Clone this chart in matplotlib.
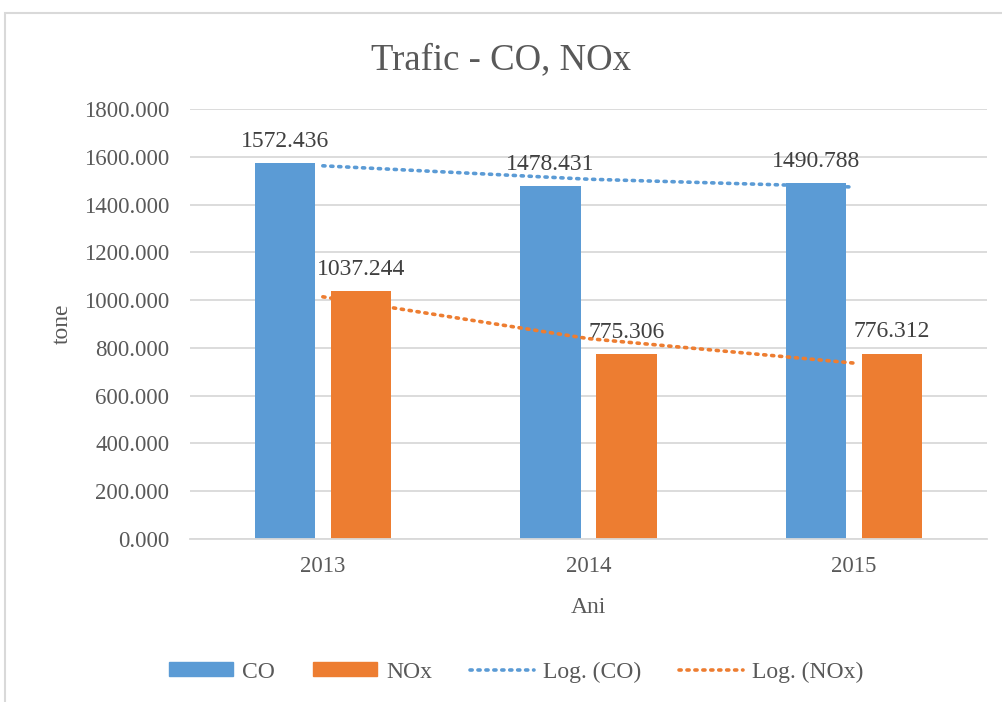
import numpy as np
import matplotlib
matplotlib.use("Agg")
import matplotlib.pyplot as plt
from matplotlib.patches import Rectangle
from matplotlib.lines import Line2D

## Date
ani = ["2013", "2014", "2015"]
co = [1572.436, 1478.431, 1490.788]
nox = [1037.244, 775.306, 776.312]
yticks = [0, 200, 400, 600, 800, 1000, 1200, 1400, 1600, 1800]

c_co = "#5B9BD5"
c_nox = "#ED7D31"
gri = "#595959"
grila = "#D9D9D9"

plt.rcParams['font.family'] = ['Liberation Serif', 'DejaVu Serif']

W, H = 1003, 702
fig = plt.figure(figsize=(W / 100, H / 100), dpi=100)
ax = fig.add_axes([190 / W, (H - 539) / H, 797 / W, 430 / H])

x = np.arange(len(ani))
w = 0.226
off = 0.143
b1 = ax.bar(x - off, co, w, color=c_co, zorder=2)
b2 = ax.bar(x + off, nox, w, color=c_nox, zorder=2)

for bars, vals in ((b1, co), (b2, nox)):
    for b, v in zip(bars, vals):
        ax.annotate("%.3f" % v, (b.get_x() + b.get_width() / 2, v),
                    xytext=(0, 8), textcoords="offset points",
                    ha="center", va="bottom", fontsize=17, color="#404040")

# trend logaritmic y = a + b ln(x)
xl = np.log(x + 1)
for vals, col in ((co, c_co), (nox, c_nox)):
    b, a = np.polyfit(xl, vals, 1)
    ax.plot(x, a + b * xl, linestyle=(0, (0.6, 1.6)), dash_capstyle="round",
            color=col, linewidth=2.6, zorder=3)

ax.set_xlim(-0.5, 2.5)
ax.set_ylim(0, 1800)
ax.set_yticks(yticks)
ax.set_yticklabels(["%.3f" % t for t in yticks])
ax.set_xticks(x)
ax.set_xticklabels(ani)
ax.tick_params(axis="both", length=0, labelsize=16.5, labelcolor=gri)
ax.tick_params(axis="y", pad=15)
ax.tick_params(axis="x", pad=12)
ax.yaxis.grid(True, color=grila, linewidth=1.3, zorder=0)
for s in ["left", "right", "top"]:
    ax.spines[s].set_visible(False)
ax.spines["bottom"].set_color(grila)
ax.spines["bottom"].set_linewidth(1.3)

ax.set_ylabel("tone", fontsize=17, color=gri)
ax.yaxis.set_label_coords(-0.147, 0.5)
ax.set_xlabel("Ani", fontsize=17, color=gri)
ax.xaxis.set_label_coords(0.5, -0.135)

fig.text(0.5, (H - 60) / H, "Trafic - CO, NOx", ha="center", va="center",
         fontsize=26.5, color=gri)

handles = [
    Rectangle((0, 0), 1, 1, color=c_co),
    Rectangle((0, 0), 1, 1, color=c_nox),
    Line2D([], [], color=c_co, linestyle=(0, (0.6, 1.6)), linewidth=2.6,
           dash_capstyle="round"),
    Line2D([], [], color=c_nox, linestyle=(0, (0.6, 1.6)), linewidth=2.6,
           dash_capstyle="round"),
]
leg = fig.legend(handles, ["CO", "NOx", "Log. (CO)", "Log. (NOx)"], ncol=4,
                 loc="center", bbox_to_anchor=(0.515, (H - 672) / H),
                 frameon=False, fontsize=17, handlelength=2.7,
                 handleheight=0.5, columnspacing=1.6, handletextpad=0.4)
for t in leg.get_texts():
    t.set_color(gri)

# chenar
fig.patches.append(Rectangle((5 / W, -0.05), 1.1, (H - 13) / H + 0.05,
                             transform=fig.transFigure, fill=False,
                             edgecolor=grila, linewidth=1.5))

fig.savefig("out.png", dpi=100)
